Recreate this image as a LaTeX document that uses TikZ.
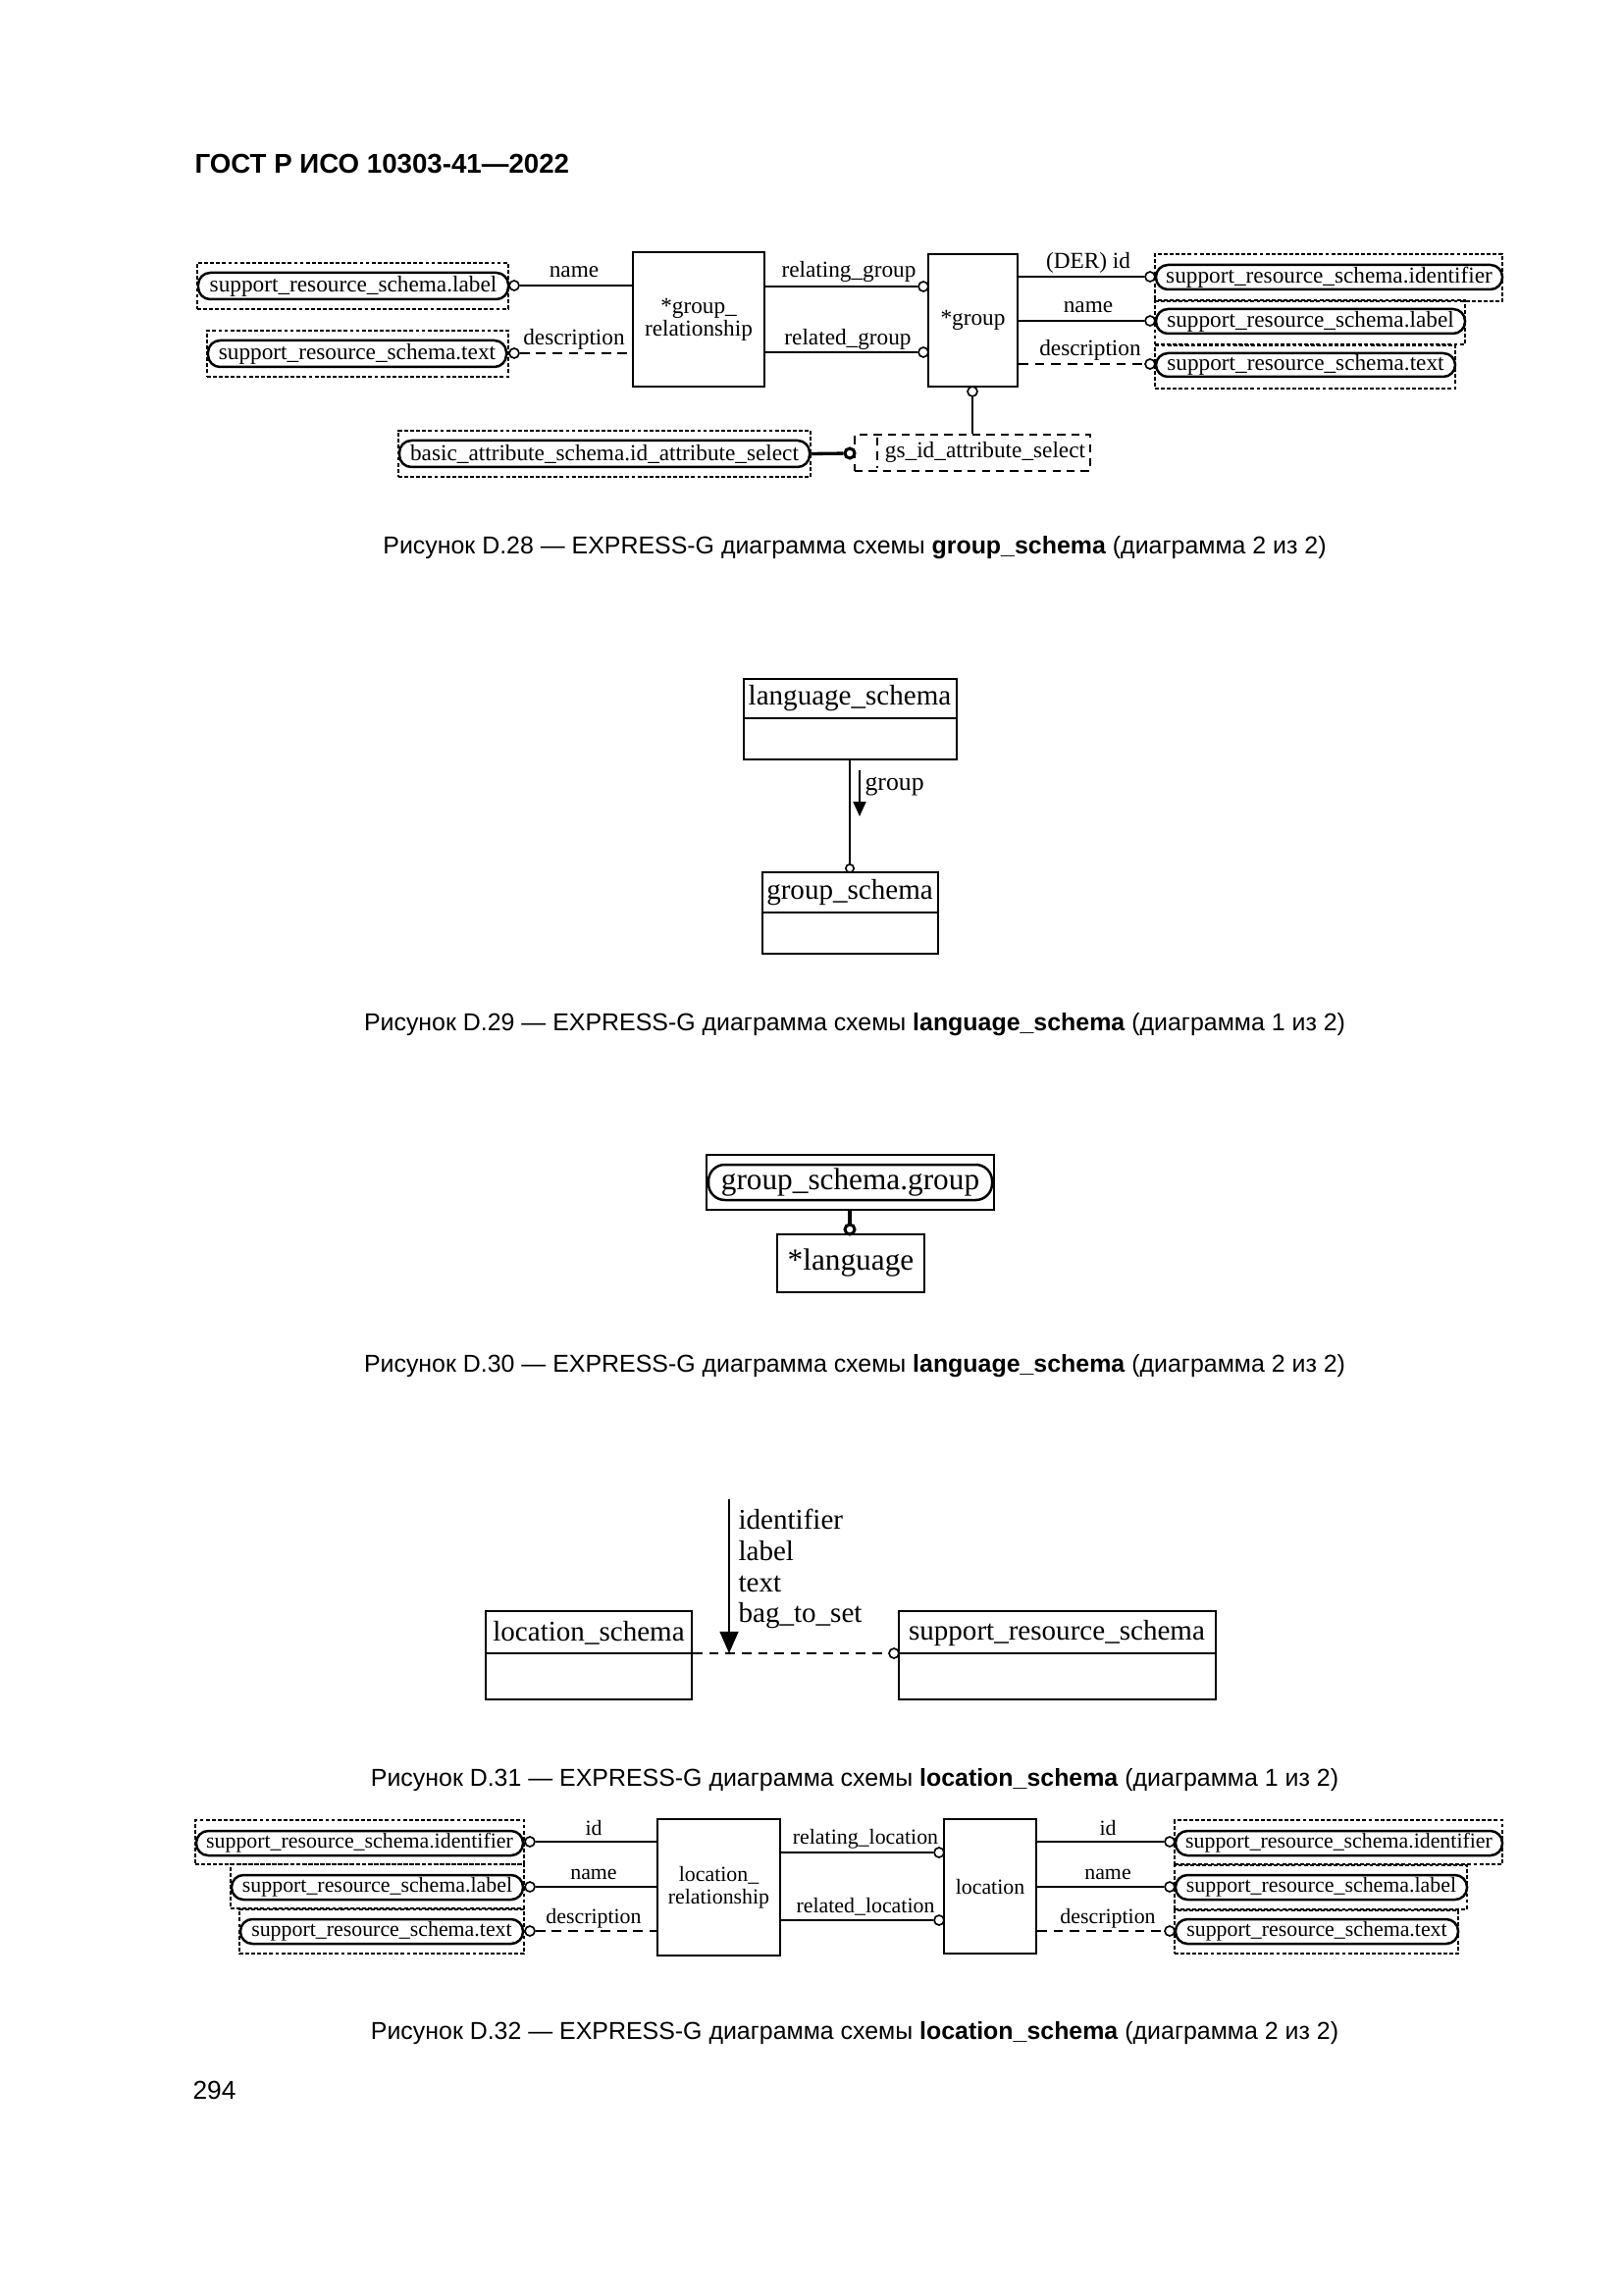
\documentclass[tikz,border=0pt]{standalone}
\usepackage{fontspec}
\setmainfont{Liberation Serif}
\newfontfamily\capfont{Liberation Sans}
\usetikzlibrary{fit,arrows.meta}
\tikzset{
  ebox/.style={draw, line width=0.8pt, inner sep=0pt},
  dbox/.style={draw, line width=0.6pt, dash pattern=on 1.4pt off 0.8pt, inner sep=0pt},
  sbox/.style={draw, line width=0.7pt, dash pattern=on 3pt off 2.2pt, inner sep=0pt},
  rbox/.style={draw, line width=0.9pt, rounded corners=4.4pt, inner sep=0pt},
  oc/.style={circle, draw, fill=white, line width=0.6pt, inner sep=0pt, minimum size=3.6pt},
  conn/.style={line width=0.7pt},
  dconn/.style={line width=0.7pt, dash pattern=on 3.5pt off 2.5pt},
  attr/.style={inner sep=0pt, align=center, font=\fontsize{8.4}{8.3}\selectfont},
  attrs/.style={inner sep=0pt, align=center, font=\fontsize{7.9}{8.3}\selectfont},
  big/.style={inner sep=0pt, font=\fontsize{10.5}{12}\selectfont},
  huge/.style={inner sep=0pt, font=\fontsize{11.3}{13}\selectfont},
  capt/.style={inner sep=0pt, font=\capfont\fontsize{9}{11}\selectfont},
}
\begin{document}
\begin{tikzpicture}[x=0.0126965cm, y=-0.0126965cm]
        \useasboundingbox (0,0) rectangle (1654,2339);
        \node[anchor=west, inner sep=0pt, font=\capfont\bfseries\fontsize{10}{12}\selectfont] (head) at (198,167) {ГОСТ Р ИСО 10303-41—2022};
        % D.28
        \node[dbox, fit={(201,268) (518,315)}] (g28lb) {};
        \node[rbox, fit={(202,278) (518,305)}] (g28lbi) {};
        \node[attr] (g28lbt) at (g28lbi.center) {support\_resource\_schema.label};
        \node[dbox, fit={(211,337) (518,384)}] (g28tx) {};
        \node[rbox, fit={(212,347) (516,374)}] (g28txi) {};
        \node[attr] (g28txt) at (g28txi.center) {support\_resource\_schema.text};
        \node[ebox, fit={(645,257) (779,394)}] (grel) {};
        \node[attr] (grelt) at (grel.center) {*group\_\\relationship};
        \node[ebox, fit={(946,259) (1037,394)}] (grp) {};
        \node[attr] (grpt) at (grp.center) {*group};
        \node[dbox, fit={(1177,259) (1531,307)}] (g28id2) {};
        \node[rbox, fit={(1178,270) (1531,295)}] (g28id2i) {};
        \node[attr] (g28id2t) at (g28id2i.center) {support\_resource\_schema.identifier};
        \node[dbox, fit={(1177,306) (1493,351)}] (g28lb2) {};
        \node[rbox, fit={(1178,315) (1493,340)}] (g28lb2i) {};
        \node[attr] (g28lb2t) at (g28lb2i.center) {support\_resource\_schema.label};
        \node[dbox, fit={(1177,352) (1483,396)}] (g28tx2) {};
        \node[rbox, fit={(1178,360) (1483,384)}] (g28tx2i) {};
        \node[attr] (g28tx2t) at (g28tx2i.center) {support\_resource\_schema.text};
        \node[dbox, fit={(406,439) (826,486)}] (basic) {};
        \node[rbox, fit={(407,449) (825,476)}] (basici) {};
        \node[attr] (basict) at (basici.center) {basic\_attribute\_schema.id\_attribute\_select};
        \node[sbox, fit={(871,443) (1111,480)}] (gsid) {};
        \node[attr] (gsidt) at (1004,461) {gs\_id\_attribute\_select};
        \draw[line width=0.7pt, dash pattern=on 3pt off 2.2pt] ([xshift=0.3cm, yshift=-0.05cm]gsid.north west) -- ([xshift=0.3cm, yshift=0.05cm]gsid.south west);
        \node[oc] (c1) at (524,291) {};
        \node[oc] (c2) at (524,360) {};
        \node[oc] (c3) at (941,292) {};
        \node[oc] (c4) at (941,359) {};
        \node[oc] (c5) at (1172,282) {};
        \node[oc] (c6) at (1172,327) {};
        \node[oc] (c7) at (1172,371) {};
        \node[oc] (c8) at (991,399) {};
        \node[oc, line width=1.1pt] (c9) at (866,462) {};
        \draw[conn] (c1) -- (c1 -| grel.west);
        \draw[dconn] (c2) -- (c2 -| grel.west);
        \draw[conn] (c3 -| grel.east) -- (c3);
        \draw[conn] (c4 -| grel.east) -- (c4);
        \draw[conn] (c5 -| grp.east) -- (c5);
        \draw[conn] (c6 -| grp.east) -- (c6);
        \draw[dconn] (c7 -| grp.east) -- (c7);
        \draw[conn] (c8) -- (c8 |- gsid.north);
        \draw[conn, line width=1.2pt] (basici.east) -- (c9);
        \node[attr] (n1) at (585,277) {name};
        \node[attr] (n2) at (585,346) {description};
        \node[attr] (n3) at (865,277) {relating\_group};
        \node[attr] (n4) at (864,346) {related\_group};
        \node[attr] (n5) at (1109,268) {(DER) id};
        \node[attr] (n6) at (1109,313) {name};
        \node[attr] (n7) at (1111,357) {description};
        \node[capt] (cap28) at (871,558) {Рисунок D.28 — EXPRESS-G диаграмма схемы \textbf{group\_schema} (диаграмма 2 из 2)};
        % D.29
        \node[ebox, fit={(758,692) (975,774)}] (lsbox) {};
        \node[big] (lsname) at (866,712) {language\_schema};
        \coordinate (lsdiv) at (0,732);
        \draw[line width=0.8pt] (lsbox.west |- lsdiv) -- (lsbox.east |- lsdiv);
        \node[ebox, fit={(777,889) (956,972)}] (gsbox) {};
        \node[big] (gsname) at (866,910) {group\_schema};
        \coordinate (gsdiv) at (0,930);
        \draw[line width=0.8pt] (gsbox.west |- gsdiv) -- (gsbox.east |- gsdiv);
        \node[oc, minimum size=3pt] (c10) at (866,885) {};
        \draw[conn] (lsbox.south -| c10) -- (c10);
        \coordinate (ga1) at (876,785);
        \coordinate (ga2) at (876,832);
        \draw[conn, -{Triangle[length=5.4pt, width=4.7pt]}] (ga1) -- (ga2);
        \node[inner sep=0pt, anchor=west, font=\fontsize{9.3}{11}\selectfont] (glbl) at (881,802) {group};
        \node[capt] (cap29) at (871,1044) {Рисунок D.29 — EXPRESS-G диаграмма схемы \textbf{language\_schema} (диаграмма 1 из 2)};
        % D.30
        \node[ebox, fit={(720,1177) (1013,1233)}] (gsg) {};
        \node[rbox, rounded corners=6pt, fit={(722,1187) (1011,1223)}] (gsgi) {};
        \node[huge] (gsgt) at (gsgi.center) {group\_schema.group};
        \node[ebox, fit={(792,1258) (942,1317)}] (lang) {};
        \node[huge] (langt) at (lang.center) {*language};
        \node[oc, line width=1.1pt] (c11) at (866,1253) {};
        \draw[conn, line width=1.2pt] (gsg.south -| c11) -- (c11);
        \node[capt] (cap30) at (871,1392) {Рисунок D.30 — EXPRESS-G диаграмма схемы \textbf{language\_schema} (диаграмма 2 из 2)};
        % D.31
        \node[ebox, fit={(495,1642) (705,1732)}] (lcbox) {};
        \node[big] (lcname) at (600,1664) {location\_schema};
        \coordinate (lcdiv) at (0,1685);
        \draw[line width=0.8pt] (lcbox.west |- lcdiv) -- (lcbox.east |- lcdiv);
        \node[ebox, fit={(916,1642) (1239,1732)}] (srbox) {};
        \node[big] (srname) at (1077,1664) {support\_resource\_schema};
        \draw[line width=0.8pt] (srbox.west |- lcdiv) -- (srbox.east |- lcdiv);
        \node[oc] (c12) at (911,1685) {};
        \draw[dconn] (lcbox.east |- lcdiv) -- (c12);
        \coordinate (at1) at (743,1528);
        \coordinate (at2) at (743,1685);
        \draw[conn, -{Triangle[length=8pt, width=6.8pt]}] (at1) -- (at2);
        \node[big, anchor=west] (u1) at (752,1548) {identifier};
        \node[big, anchor=west] (u2) at (752,1581) {label};
        \node[big, anchor=west] (u3) at (752,1614) {text};
        \node[big, anchor=west] (u4) at (752,1647) {bag\_to\_set};
        \node[capt] (cap31) at (871,1814) {Рисунок D.31 — EXPRESS-G диаграмма схемы \textbf{location\_schema} (диаграмма 1 из 2)};
        % D.32
        \node[dbox, fit={(199,1855) (534,1900)}] (l32id) {};
        \node[rbox, fit={(200,1866) (533,1891)}] (l32idi) {};
        \node[attrs] (l32idt) at (l32idi.center) {support\_resource\_schema.identifier};
        \node[dbox, fit={(235,1900) (534,1945)}] (l32lb) {};
        \node[rbox, fit={(236,1911) (533,1936)}] (l32lbi) {};
        \node[attrs] (l32lbt) at (l32lbi.center) {support\_resource\_schema.label};
        \node[dbox, fit={(244,1946) (534,1991)}] (l32tx) {};
        \node[rbox, fit={(245,1956) (533,1981)}] (l32txi) {};
        \node[attrs] (l32txt) at (l32txi.center) {support\_resource\_schema.text};
        \node[ebox, fit={(670,1854) (795,1993)}] (locrel) {};
        \node[attrs] (locrelt) at (locrel.center) {location\_\\relationship};
        \node[ebox, fit={(962,1854) (1056,1991)}] (loc) {};
        \node[attrs] (loct) at (loc.center) {location};
        \node[dbox, fit={(1197,1855) (1531,1900)}] (r32id) {};
        \node[rbox, fit={(1198,1866) (1531,1891)}] (r32idi) {};
        \node[attrs] (r32idt) at (r32idi.center) {support\_resource\_schema.identifier};
        \node[dbox, fit={(1197,1901) (1495,1946)}] (r32lb) {};
        \node[rbox, fit={(1198,1911) (1495,1936)}] (r32lbi) {};
        \node[attrs] (r32lbt) at (r32lbi.center) {support\_resource\_schema.label};
        \node[dbox, fit={(1197,1947) (1486,1991)}] (r32tx) {};
        \node[rbox, fit={(1198,1956) (1486,1981)}] (r32txi) {};
        \node[attrs] (r32txt) at (r32txi.center) {support\_resource\_schema.text};
        \node[oc] (d1) at (540,1877) {};
        \node[oc] (d2) at (540,1923) {};
        \node[oc] (d3) at (540,1968) {};
        \node[oc] (d4) at (957,1888) {};
        \node[oc] (d5) at (957,1957) {};
        \node[oc] (d6) at (1192,1877) {};
        \node[oc] (d7) at (1192,1923) {};
        \node[oc] (d8) at (1192,1968) {};
        \draw[conn] (d1) -- (d1 -| locrel.west);
        \draw[conn] (d2) -- (d2 -| locrel.west);
        \draw[dconn] (d3) -- (d3 -| locrel.west);
        \draw[conn] (d4 -| locrel.east) -- (d4);
        \draw[conn] (d5 -| locrel.east) -- (d5);
        \draw[conn] (d6 -| loc.east) -- (d6);
        \draw[conn] (d7 -| loc.east) -- (d7);
        \draw[dconn] (d8 -| loc.east) -- (d8);
        \node[attrs] (m1) at (605,1863) {id};
        \node[attrs] (m2) at (605,1910) {name};
        \node[attrs] (m3) at (605,1955) {description};
        \node[attrs] (m4) at (882,1874) {relating\_location};
        \node[attrs] (m5) at (882,1943) {related\_location};
        \node[attrs] (m6) at (1129,1863) {id};
        \node[attrs] (m7) at (1129,1910) {name};
        \node[attrs] (m8) at (1129,1955) {description};
        \node[capt] (cap32) at (871,2072) {Рисунок D.32 — EXPRESS-G диаграмма схемы \textbf{location\_schema} (диаграмма 2 из 2)};
        \node[anchor=west, inner sep=0pt, font=\capfont\fontsize{9.5}{11}\selectfont] (pnum) at (196,2130) {294};
    \end{tikzpicture}
\end{document}
